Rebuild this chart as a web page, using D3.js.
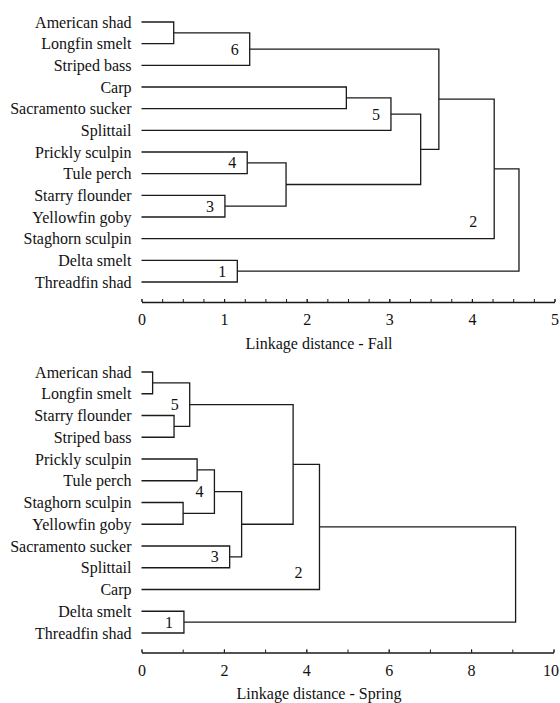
<!DOCTYPE html>
<html>
<head>
<meta charset="utf-8">
<script src="https://cdn.jsdelivr.net/npm/d3@7"></script>
<style>
  body { margin: 0; background: #fff; }
  svg text { font-family: "Liberation Serif", "Times New Roman", Times, serif; font-size: 16px; fill: #111; }
</style>
</head>
<body>
<div class="chart"></div>
<script>
const width = 560;
const height = 703;

// leaves in drawing order, merges are [left, right, distance]; node ids: leaves 0..12, merges 13..
const fallLeaves = ["American shad", "Longfin smelt", "Striped bass", "Carp", "Sacramento sucker",
    "Splittail", "Prickly sculpin", "Tule perch", "Starry flounder", "Yellowfin goby",
    "Staghorn sculpin", "Delta smelt", "Threadfin shad"];
const fallMerges = [
    [0, 1, 0.39],
    [13, 2, 1.31],
    [3, 4, 2.48],
    [15, 5, 3.02],
    [6, 7, 1.28],
    [8, 9, 1.01],
    [17, 18, 1.75],
    [11, 12, 1.16],
    [16, 19, 3.38],
    [14, 21, 3.60],
    [22, 10, 4.27],
    [23, 20, 4.57]
];
const fallLabels = [[14, "6"], [16, "5"], [17, "4"], [18, "3"], [20, "1"], [23, "2"]];
const fallTicks = [0, 1, 2, 3, 4, 5];

const springLeaves = ["American shad", "Longfin smelt", "Starry flounder", "Striped bass",
    "Prickly sculpin", "Tule perch", "Staghorn sculpin", "Yellowfin goby", "Sacramento sucker",
    "Splittail", "Carp", "Delta smelt", "Threadfin shad"];
const springMerges = [
    [0, 1, 0.27],
    [2, 3, 0.79],
    [13, 14, 1.17],
    [4, 5, 1.35],
    [6, 7, 1.01],
    [16, 17, 1.77],
    [8, 9, 2.14],
    [18, 19, 2.43],
    [15, 20, 3.68],
    [21, 10, 4.32],
    [11, 12, 1.03],
    [22, 23, 9.08]
];
const springLabels = [[15, "5"], [18, "4"], [19, "3"], [23, "1"], [22, "2"]];
const springTicks = [0, 2, 4, 6, 8, 10];

const svg = d3.select(".chart").append("svg").attr("width", width).attr("height", height);

function dendro(opt) {
    const g = svg.append("g");
    const x = d3.scaleLinear().domain([0, opt.max]).range([141.5, opt.right]);
    const y = d3.scalePoint().domain(opt.leaves).range(opt.rows);

    // node positions
    let nodes = opt.leaves.map(l => ({ y: y(l), h: 0 }));
    opt.merges.forEach(m => {
        nodes.push({ y: (nodes[m[0]].y + nodes[m[1]].y) / 2, h: m[2], a: m[0], b: m[1] });
    });

    g.selectAll("text.leaf").data(opt.leaves).enter().append("text")
        .attr("class", "leaf")
        .attr("x", x(0) - 10)
        .attr("y", d => y(d))
        .attr("dy", "0.35em")
        .attr("text-anchor", "end")
        .text(d => d);

    g.selectAll("path.link").data(nodes.filter(n => n.a != undefined)).enter().append("path")
        .attr("class", "link")
        .attr("fill", "none")
        .attr("stroke", "#1a1a1a")
        .attr("stroke-width", 1.3)
        .attr("d", n => {
            let a = nodes[n.a], b = nodes[n.b];
            return "M" + x(a.h) + "," + a.y + "H" + x(n.h) + "V" + b.y + "H" + x(b.h);
        });

    g.selectAll("text.clu").data(opt.labels).enter().append("text")
        .attr("class", "clu")
        .attr("text-anchor", "middle")
        .attr("dy", "0.35em")
        .attr("x", d => x(nodes[d[0]].h) - (d[1] == "2" ? 21 : 15))
        .attr("y", d => {
            let n = nodes[d[0]];
            // cluster 2 label sits just above its lower branch
            if (d[1] == "2") return Math.max(nodes[n.a].y, nodes[n.b].y) - 17;
            return n.y;
        })
        .text(d => d[1]);

    // minor ticks
    const ax = g.append("g").attr("transform", "translate(0," + opt.axisY + ")");
    ax.call(d3.axisBottom(x).tickValues(d3.range(0, opt.max + 0.001, opt.minor))
        .tickSize(-3).tickSizeOuter(0).tickFormat(""));
    ax.selectAll(".tick line").attr("stroke", "#1a1a1a");
    ax.select(".domain").remove();

    // major ticks + labels
    const ax2 = g.append("g").attr("transform", "translate(0," + opt.axisY + ")");
    ax2.call(d3.axisBottom(x).tickValues(opt.ticks).tickFormat(d3.format("d"))
        .tickSize(-3).tickSizeOuter(0).tickPadding(12));
    ax2.attr("font-size", null).attr("font-family", null);
    ax2.selectAll("text").attr("fill", null);
    ax2.selectAll(".tick line").attr("stroke", "#1a1a1a");
    ax2.select(".domain").attr("stroke", "#1a1a1a").attr("stroke-width", 1.3);
    // keep the last label inside the page
    ax2.selectAll(".tick text").filter(d => d >= 10).attr("dx", -3);

    g.append("text")
        .attr("x", 319)
        .attr("y", opt.titleY)
        .attr("text-anchor", "middle")
        .text(opt.title);
}

dendro({ leaves: fallLeaves, merges: fallMerges, labels: fallLabels, ticks: fallTicks,
    max: 5, minor: 0.25, right: 554.5, rows: [22, 282], axisY: 302, titleY: 349,
    title: "Linkage distance - Fall" });
dendro({ leaves: springLeaves, merges: springMerges, labels: springLabels, ticks: springTicks,
    max: 10, minor: 1, right: 553.5, rows: [372, 633], axisY: 652.5, titleY: 699,
    title: "Linkage distance - Spring" });
</script>
</body>
</html>
